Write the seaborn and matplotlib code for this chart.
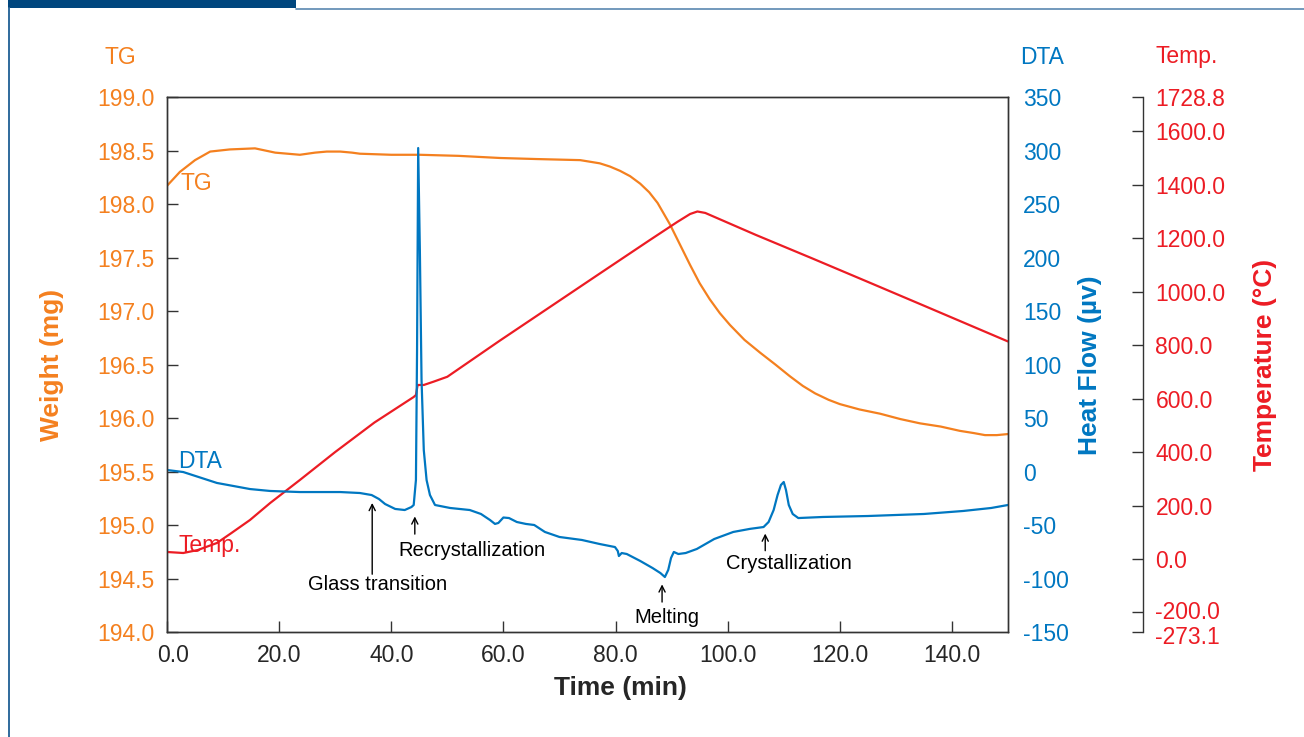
"""TG / DTA / temperature thermal analysis chart."""

import matplotlib.pyplot as plt
import seaborn as sns
from matplotlib.lines import Line2D
from matplotlib.patches import Rectangle
from matplotlib.transforms import ScaledTranslation

# --- data ------------------------------------------------------------------
tg_time = [0, 2.3, 5, 7.7, 11.2, 15.7, 17.5, 19.3, 21.5, 23.7, 26.4, 28.5, 30.9, 33, 34.4,
           40, 45.1, 52, 59.4, 66, 73.7, 77.2, 79, 80.8, 82.6, 84.4, 86, 87.5, 89.7, 91.5,
           93.3, 95, 96.8, 98.6, 100.4, 103, 105.8, 108.5, 111.1, 113.4, 115.6, 118, 120,
           123.5, 127.2, 130.8, 134.3, 138, 141.4, 143.8, 145.9, 148, 150]
tg_weight = [198.17, 198.30, 198.41, 198.49, 198.51, 198.52, 198.50, 198.48, 198.47, 198.46,
             198.48, 198.49, 198.49, 198.48, 198.47, 198.46, 198.46, 198.45, 198.43, 198.42,
             198.41, 198.38, 198.35, 198.31, 198.26, 198.19, 198.11, 198.01, 197.81, 197.62,
             197.43, 197.26, 197.11, 196.98, 196.87, 196.73, 196.61, 196.50, 196.39, 196.30,
             196.23, 196.17, 196.13, 196.08, 196.04, 195.99, 195.95, 195.92, 195.88, 195.86,
             195.84, 195.84, 195.85]

dta_time = [0, 2.9, 8.9, 14.8, 18.4, 23.7, 30.9, 34.4, 36.5, 37.8, 38.9, 40.7, 42.4, 43.6,
            44.0, 44.4, 44.6, 44.8, 45.1, 45.4, 45.8, 46.3, 46.9, 47.8, 50.5, 54, 56, 57.6,
            58.5, 59.1, 60, 61, 62.4, 64, 65.5, 67.4, 70, 74, 77.2, 79.9, 80.4, 80.6, 81.1,
            82, 84.4, 86.6, 88, 88.8, 89.4, 89.9, 90.4, 91.2, 92.5, 94.5, 97.6, 101, 104,
            106.4, 107.3, 108.2, 108.9, 109.5, 110, 110.4, 110.9, 111.6, 112.6, 117, 125,
            135, 142, 147, 150]
dta_flow = [1.4, -0.5, -10.7, -16.4, -18.2, -19.2, -19.2, -20.1, -22, -25.7, -30.4, -35, -36,
            -33.2, -31.3, -7.9, 113.6, 302.3, 207, 85.5, 20, -8, -22, -31.3, -34.1, -36, -39.7,
            -45.3, -49, -48.1, -43, -43.5, -47.2, -49, -50, -56.5, -61.2, -64, -67.8, -70.6,
            -74.3, -79, -76.2, -77.1, -83.6, -90.2, -94.9, -98.6, -92, -80.8, -75.2, -77.1,
            -76.2, -72.4, -63.1, -56.5, -53.6, -51.9, -47.2, -36, -22, -12.6, -9.8, -17.3,
            -31.3, -39.7, -43.5, -42.5, -41.6, -39.7, -36.9, -34.1, -31.3]

temp_time = [0, 2.9, 5.5, 8.9, 11.5, 14.8, 18.4, 23.7, 30, 37, 44.0, 44.4, 44.7, 45.8, 47.6,
             50, 59.4, 68.3, 77.2, 86, 91, 93.3, 94.6, 96, 105, 115, 125, 135, 150]
temp_c = [26.3, 22.5, 33.7, 59.9, 97.4, 146.0, 209.6, 295.7, 400.4, 510.8, 606.3, 613.7,
          651.2, 651.2, 664.0, 682.0, 817.7, 943.0, 1068.4, 1191.9, 1261.1, 1291.0, 1300.4,
          1295.0, 1213.0, 1125.6, 1037.0, 948.0, 814.0]

time_ticks = [0, 20, 40, 60, 80, 100, 120, 140]
tg_ticks = [194.0, 194.5, 195.0, 195.5, 196.0, 196.5, 197.0, 197.5, 198.0, 198.5, 199.0]
dta_ticks = [-150, -100, -50, 0, 50, 100, 150, 200, 250, 300, 350]
temp_ticks = [-273.1, -200.0, 0.0, 200.0, 400.0, 600.0, 800.0, 1000.0, 1200.0, 1400.0,
              1600.0, 1728.8]

# events on the DTA trace: label, arrow x, arrow tip, arrow tail, text x, text y
events = [
    ("Glass transition", 36.6, -29.4, -96.0, 37.5, -105.5),
    ("Recrystallization", 44.2, -42.0, -58.5, 54.4, -74.0),
    ("Melting", 88.3, -105.5, -122.0, 89.2, -136.0),
    ("Crystallization", 106.7, -58.0, -74.0, 110.9, -86.0),
]

ORANGE = "#F4801F"
BLUE = "#0077C1"
RED = "#EC1C24"
W, H = 1304, 737

sns.set_style("ticks")
plt.rcParams["font.family"] = ["Liberation Sans", "DejaVu Sans"]
plt.rcParams["axes.edgecolor"] = "#333333"
plt.rcParams["axes.linewidth"] = 1.0
plt.rcParams["lines.solid_joinstyle"] = "round"
plt.rcParams["lines.solid_capstyle"] = "round"

fig = plt.figure(figsize=(W / 100, H / 100), dpi=100)
ax = fig.add_axes([167 / W, 105 / H, 841 / W, 535 / H])
ax_temp = ax.twinx()
ax_dta = ax.twinx()

sns.lineplot(x=tg_time, y=tg_weight, ax=ax, color=ORANGE, linewidth=1.6,
             estimator=None, sort=False)
sns.lineplot(x=temp_time, y=temp_c, ax=ax_temp, color=RED, linewidth=1.6,
             estimator=None, sort=False)
sns.lineplot(x=dta_time, y=dta_flow, ax=ax_dta, color=BLUE, linewidth=1.6,
             estimator=None, sort=False)

label_size = 16.5

# TG axis (left)
ax.set_xlim(0, 150)
ax.set_ylim(194.0, 199.0)
ax.set_xticks(time_ticks)
ax.set_xticklabels([f"{t:.1f}" for t in time_ticks], fontsize=label_size)
ax.set_yticks(tg_ticks)
ax.set_yticklabels([f"{v:.1f}" for v in tg_ticks], fontsize=label_size, color=ORANGE)
ax.tick_params(axis="both", direction="in", length=8, width=1, color="#333333")
ax.tick_params(axis="y", pad=9)
ax.tick_params(axis="x", pad=9)
ax.set_xlabel("")
ax.set_ylabel("")

# DTA axis (right of the frame, no tick marks)
ax_dta.set_ylim(-150, 350)
ax_dta.set_yticks(dta_ticks)
ax_dta.set_yticklabels([str(v) for v in dta_ticks], fontsize=label_size, color=BLUE)
ax_dta.tick_params(axis="y", length=0, pad=11)
ax_dta.set_ylabel("")

# Temperature axis (offset spine)
ax_temp.spines["right"].set_position(("axes", (1143 - 167) / 841))
for side in ("top", "left", "bottom"):
    ax_temp.spines[side].set_visible(False)
ax_temp.set_ylim(-273.1, 1728.8)
ax_temp.set_yticks(temp_ticks)
ax_temp.set_yticklabels([f"{v:.1f}" for v in temp_ticks], fontsize=label_size, color=RED)
ax_temp.tick_params(axis="y", direction="in", length=8, width=1, color="#333333", pad=9)
ax_temp.set_ylabel("")

for a in (ax, ax_dta):
    for side in ("top", "right", "left", "bottom"):
        a.spines[side].set_visible(True)

# nudge crowded tick labels apart as in the original
def nudge(label, dx_px, dy_px):
    label.set_transform(label.get_transform()
                        + ScaledTranslation(dx_px / 100, dy_px / 100, fig.dpi_scale_trans))

temp_labels = ax_temp.get_yticklabels()
nudge(temp_labels[0], 0, -3)
nudge(temp_labels[1], 0, 2)
nudge(ax.get_xticklabels()[0], 6, 0)

# inline curve labels
ax.text(5.2, 198.19, "TG", color=ORANGE, fontsize=label_size, ha="center", va="center")
ax_dta.text(5.9, 9.8, "DTA", color=BLUE, fontsize=label_size, ha="center", va="center")
ax_temp.text(7.7, 52.0, "Temp.", color=RED, fontsize=label_size, ha="center", va="center")

# event annotations
for name, ax_x, tip, tail, tx, ty in events:
    ax_dta.annotate("", xy=(ax_x, tip), xytext=(ax_x, tail),
                    arrowprops=dict(arrowstyle="->", color="black", lw=1.0,
                                    shrinkA=0, shrinkB=0, mutation_scale=11))
    ax_dta.text(tx, ty, name, fontsize=14.5, color="black", ha="center", va="center")

# axis titles and headers
fig.text(620 / W, 1 - 688 / H, "Time (min)", fontsize=19, fontweight="bold",
         ha="center", va="center")
fig.text(52 / W, 1 - 365 / H, "Weight (mg)", fontsize=19, fontweight="bold", color=ORANGE,
         rotation=90, ha="center", va="center")
fig.text(1090 / W, 1 - 365 / H, "Heat Flow (µv)", fontsize=19, fontweight="bold",
         color=BLUE, rotation=90, ha="center", va="center")
fig.text(1265 / W, 1 - 365 / H, "Temperature (°C)", fontsize=19, fontweight="bold",
         color=RED, rotation=90, ha="center", va="center")
fig.text(120 / W, 1 - 57 / H, "TG", fontsize=label_size, color=ORANGE, ha="center", va="center")
fig.text(1042 / W, 1 - 57 / H, "DTA", fontsize=label_size, color=BLUE, ha="center", va="center")
fig.text(1187 / W, 1 - 57 / H, "Temp.", fontsize=label_size, color=RED, ha="center", va="center")

# page frame: header bar, top rule and left rule
fig.patches.append(Rectangle((8 / W, 1 - 8 / H), 288 / W, 8 / H, transform=fig.transFigure,
                             facecolor="#00467E", edgecolor="none"))
fig.lines.append(Line2D([296 / W, 1], [1 - 8.5 / H, 1 - 8.5 / H], transform=fig.transFigure,
                        color="#5A88B0", linewidth=1.2))
fig.lines.append(Line2D([8.5 / W, 8.5 / W], [0, 1 - 8 / H], transform=fig.transFigure,
                        color="#2F6A9C", linewidth=1.4))

fig.savefig("out.png", dpi=100)
plt.close(fig)
